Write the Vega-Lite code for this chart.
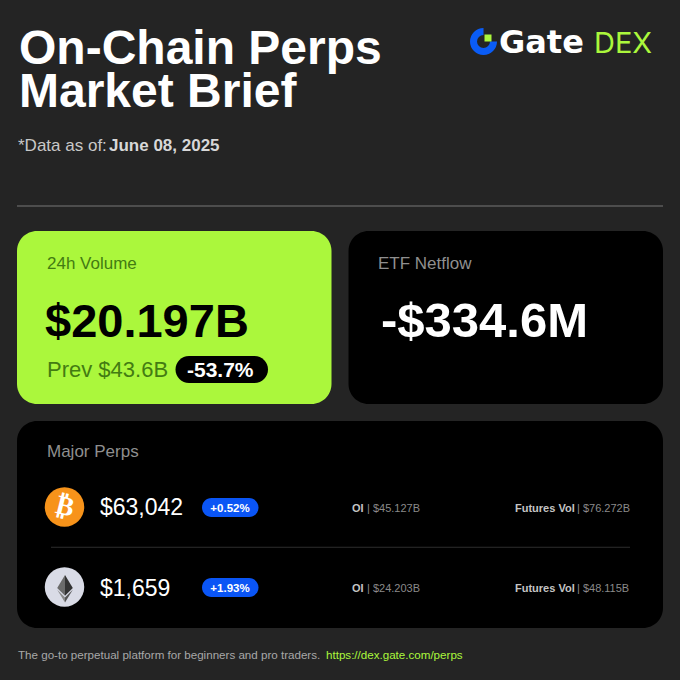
{"$schema":"https://vega.github.io/schema/vega-lite/v6.json","width":680,"height":680,"autosize":{"type":"fit","contains":"padding"},"padding":0,"background":"#242424","config":{"view":{"stroke":null}},
"encoding":{"x":{"field":"x","type":"quantitative","scale":{"domain":[0,680]},"axis":null},"y":{"field":"y","type":"quantitative","scale":{"domain":[680,0]},"axis":null}},
"layer":[
{"data":{"values":[{"x":17,"x2":663,"y":205.5,"y2":206.5}]},"mark":{"type":"rect","color":"#777777"},"encoding":{"x2":{"field":"x2"},"y2":{"field":"y2"}}},
{"data":{"values":[{"x":17,"x2":331.5,"y":231,"y2":404}]},"mark":{"type":"rect","color":"#abf73c","cornerRadius":20},"encoding":{"x2":{"field":"x2"},"y2":{"field":"y2"}}},
{"data":{"values":[{"x":175.5,"x2":268,"y":356,"y2":383}]},"mark":{"type":"rect","color":"#000000","cornerRadius":13.5},"encoding":{"x2":{"field":"x2"},"y2":{"field":"y2"}}},
{"data":{"values":[{"x":348.5,"x2":663,"y":231,"y2":404},{"x":17,"x2":663,"y":421,"y2":628}]},"mark":{"type":"rect","color":"#000000","cornerRadius":20},"encoding":{"x2":{"field":"x2"},"y2":{"field":"y2"}}},
{"data":{"values":[{"x":51,"x2":630,"y":546.7,"y2":547.7}]},"mark":{"type":"rect","color":"#2e2e2e"},"encoding":{"x2":{"field":"x2"},"y2":{"field":"y2"}}},
{"data":{"values":[{"x":202,"x2":258.5,"y":498,"y2":517},{"x":202,"x2":258.5,"y":578,"y2":597}]},"mark":{"type":"rect","color":"#0a55f5","cornerRadius":9.5},"encoding":{"x2":{"field":"x2"},"y2":{"field":"y2"}}},
{"data":{"values":[{"x":64.5,"y":507}]},"mark":{"type":"point","shape":"circle","filled":true,"opacity":1,"size":1560,"color":"#f7931a"}},
{"data":{"values":[{"x":64.5,"y":587}]},"mark":{"type":"point","shape":"circle","filled":true,"opacity":1,"size":1560,"color":"#d9dbe6"}},
{"data":{"values":[{"x":65,"y":588}]},"mark":{"type":"point","shape":"M0,-1.3L-0.78,0L0,0.78Z","filled":true,"opacity":1,"size":400,"color":"#6b6b6b"}},
{"data":{"values":[{"x":65,"y":588}]},"mark":{"type":"point","shape":"M0,-1.3L0.78,0L0,0.78Z","filled":true,"opacity":1,"size":400,"color":"#333333"}},
{"data":{"values":[{"x":65,"y":588}]},"mark":{"type":"point","shape":"M-0.78,0.17L0,0.95L0,1.45Z","filled":true,"opacity":1,"size":400,"color":"#8a8a8a"}},
{"data":{"values":[{"x":65,"y":588}]},"mark":{"type":"point","shape":"M0.78,0.17L0,0.95L0,1.45Z","filled":true,"opacity":1,"size":400,"color":"#555555"}},
{"data":{"values":[{"x":483.5,"y":41.5}]},"mark":{"type":"arc","radius":13.5,"radius2":6.5,"theta":1.5708,"theta2":6.2832,"color":"#0a5cf5"}},
{"data":{"values":[{"x":484.5,"x2":491.5,"y":34.5,"y2":41.5}]},"mark":{"type":"rect","color":"#abf73c"},"encoding":{"x2":{"field":"x2"},"y2":{"field":"y2"}}},
{"data":{"values":[{"t":"Gate","x":499,"y":53}]},"mark":{"type":"text","align":"left","baseline":"alphabetic","font":"DejaVu Sans","fontWeight":700,"fontSize":32,"color":"#ffffff"},"encoding":{"text":{"field":"t"}}},
{"data":{"values":[{"t":"DEX","x":594,"y":53}]},"mark":{"type":"text","align":"left","baseline":"alphabetic","font":"Inter","fontWeight":400,"fontSize":29,"color":"#abf73c"},"encoding":{"text":{"field":"t"}}},
{"data":{"values":[{"t":"On-Chain Perps","x":19,"y":64},{"t":"Market Brief","x":19,"y":107}]},"mark":{"type":"text","align":"left","baseline":"alphabetic","font":"Liberation Sans","fontWeight":700,"fontSize":48,"color":"#ffffff"},"encoding":{"text":{"field":"t"}}},
{"data":{"values":[{"t":"*Data as of:","x":18,"y":151}]},"mark":{"type":"text","align":"left","baseline":"alphabetic","font":"Liberation Sans","fontSize":17,"color":"#c8c8c8"},"encoding":{"text":{"field":"t"}}},
{"data":{"values":[{"t":"June 08, 2025","x":109,"y":151}]},"mark":{"type":"text","align":"left","baseline":"alphabetic","font":"Liberation Sans","fontWeight":700,"fontSize":17,"color":"#d8d8d8"},"encoding":{"text":{"field":"t"}}},
{"data":{"values":[{"t":"24h Volume","x":47,"y":269}]},"mark":{"type":"text","align":"left","baseline":"alphabetic","font":"Liberation Sans","fontSize":17,"color":"#437c12"},"encoding":{"text":{"field":"t"}}},
{"data":{"values":[{"t":"$20.197B","x":45,"y":337}]},"mark":{"type":"text","align":"left","baseline":"alphabetic","font":"Liberation Sans","fontWeight":700,"fontSize":47,"color":"#000000"},"encoding":{"text":{"field":"t"}}},
{"data":{"values":[{"t":"Prev $43.6B","x":47,"y":377}]},"mark":{"type":"text","align":"left","baseline":"alphabetic","font":"Liberation Sans","fontSize":22,"color":"#437c12"},"encoding":{"text":{"field":"t"}}},
{"data":{"values":[{"t":"-53.7%","x":187,"y":376.5}]},"mark":{"type":"text","align":"left","baseline":"alphabetic","font":"Liberation Sans","fontWeight":700,"fontSize":21,"color":"#ffffff"},"encoding":{"text":{"field":"t"}}},
{"data":{"values":[{"t":"ETF Netflow","x":378,"y":269},{"t":"Major Perps","x":47,"y":457}]},"mark":{"type":"text","align":"left","baseline":"alphabetic","font":"Liberation Sans","fontSize":17,"color":"#8f8f8f"},"encoding":{"text":{"field":"t"}}},
{"data":{"values":[{"t":"-$334.6M","x":381,"y":337}]},"mark":{"type":"text","align":"left","baseline":"alphabetic","font":"Liberation Sans","fontWeight":700,"fontSize":49,"color":"#ffffff"},"encoding":{"text":{"field":"t"}}},
{"data":{"values":[{"t":"₿","x":65,"y":507}]},"mark":{"type":"text","align":"center","baseline":"middle","font":"DejaVu Sans","fontWeight":700,"fontSize":27,"angle":14,"color":"#ffffff"},"encoding":{"text":{"field":"t"}}},
{"data":{"values":[{"t":"$63,042","x":100,"y":515},{"t":"$1,659","x":100,"y":596}]},"mark":{"type":"text","align":"left","baseline":"alphabetic","font":"Liberation Sans","fontSize":23,"color":"#ffffff"},"encoding":{"text":{"field":"t"}}},
{"data":{"values":[{"t":"+0.52%","x":230,"y":512},{"t":"+1.93%","x":230,"y":592}]},"mark":{"type":"text","align":"center","baseline":"alphabetic","font":"Liberation Sans","fontWeight":700,"fontSize":11.5,"color":"#ffffff"},"encoding":{"text":{"field":"t"}}},
{"data":{"values":[{"t":"OI","x":352,"y":512},{"t":"OI","x":352,"y":592},{"t":"Futures Vol","x":515,"y":512},{"t":"Futures Vol","x":515,"y":592}]},"mark":{"type":"text","align":"left","baseline":"alphabetic","font":"Liberation Sans","fontWeight":700,"fontSize":11,"color":"#c4c4c4"},"encoding":{"text":{"field":"t"}}},
{"data":{"values":[{"t":"| $45.127B","x":367,"y":512},{"t":"| $24.203B","x":367,"y":592},{"t":"| $76.272B","x":577,"y":512},{"t":"| $48.115B","x":577,"y":592}]},"mark":{"type":"text","align":"left","baseline":"alphabetic","font":"Liberation Sans","fontSize":11,"color":"#8a8a8a"},"encoding":{"text":{"field":"t"}}},
{"data":{"values":[{"t":"The go-to perpetual platform for beginners and pro traders.","x":18,"y":659}]},"mark":{"type":"text","align":"left","baseline":"alphabetic","font":"Liberation Sans","fontSize":11.6,"color":"#a8a8a8"},"encoding":{"text":{"field":"t"}}},
{"data":{"values":[{"t":"https://dex.gate.com/perps","x":326,"y":659}]},"mark":{"type":"text","align":"left","baseline":"alphabetic","font":"Liberation Sans","fontSize":11.6,"color":"#abf73c"},"encoding":{"text":{"field":"t"}}}
]}
